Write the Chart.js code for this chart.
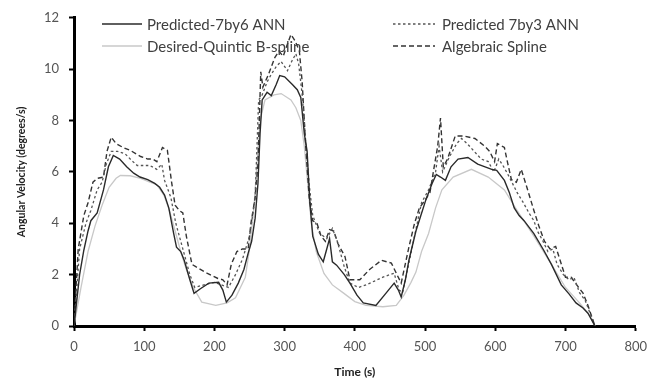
<!DOCTYPE html>
<html>
<head>
<meta charset="utf-8">
<script src="https://cdn.jsdelivr.net/npm/chart.js@4/dist/chart.umd.min.js"></script>
<style>
  html, body { margin: 0; padding: 0; background: #fff; }
  #wrap { width: 655px; height: 380px; }
</style>
</head>
<body>
<div id="wrap"><canvas id="velChart" width="655" height="380"></canvas></div>
<script>
// ── Series data: [time (s), angular velocity (deg/s)] ──
const ann7by6 = [
  [0,0],[8,2.0],[14,2.95],[20,3.7],[24,4.1],[33,4.4],[42,5.3],[49,6.2],[56,6.64],[65,6.5],
  [75,6.2],[85,5.95],[94,5.8],[105,5.7],[115,5.55],[122,5.4],[129,5.1],[135,4.6],[142,3.6],[146,3.07],
  [152,2.9],[157,2.56],[165,1.8],[171,1.27],[180,1.45],[192,1.67],[206,1.7],[212,1.4],[217,0.93],[225,1.2],
  [234,1.67],[242,2.2],[248,2.83],[253,3.3],[258,4.2],[262,5.55],[265,7.5],[268,8.8],[275,9.1],[281,8.97],
  [288,9.4],[293,9.75],[300,9.7],[311,9.4],[318,9.2],[323,8.9],[328,7.5],[332,6.8],[336,4.8],[340,3.5],
  [348,2.8],[355,2.5],[360,3.0],[364,3.4],[368,2.5],[374,2.37],[385,2.0],[393,1.67],[403,1.2],[412,0.9],
  [430,0.8],[445,1.3],[456,1.67],[462,1.4],[466,1.13],[472,1.8],[477,2.56],[487,3.7],[494,4.3],[501,4.9],
  [510,5.55],[516,5.9],[522,5.8],[529,5.67],[537,6.2],[547,6.5],[561,6.56],[575,6.3],[595,6.1],[602,6.06],
  [613,5.67],[620,5.2],[627,4.6],[634,4.3],[641,4.1],[655,3.6],[669,2.95],[680,2.4],[694,1.6],[705,1.25],
  [715,0.9],[725,0.7],[732,0.5],[742,0]
];

const ann7by3 = [
  [0,0],[8,3.0],[17,4.0],[24,4.5],[33,5.3],[40,5.6],[46,6.3],[53,6.8],[62,6.8],[73,6.7],
  [82,6.45],[90,6.25],[100,6.25],[108,6.25],[118,6.1],[125,6.3],[129,5.67],[138,5.0],[145,4.0],[155,3.0],
  [165,2.0],[172,1.5],[185,1.6],[200,1.7],[210,1.6],[220,1.5],[230,2.0],[240,2.6],[250,3.5],[258,5.0],
  [263,8.8],[268,9.0],[275,9.5],[281,9.8],[288,10.1],[295,10.3],[304,9.94],[310,10.3],[316,10.6],[320,10.2],
  [325,9.0],[330,7.2],[335,5.5],[340,4.3],[350,3.6],[360,3.4],[368,3.8],[375,3.3],[385,2.3],[393,1.67],
  [405,1.5],[416,1.6],[428,1.75],[440,1.9],[450,2.0],[456,2.05],[463,1.4],[468,1.3],[475,2.2],[485,3.5],
  [495,4.8],[505,5.3],[515,6.0],[520,7.0],[525,6.0],[535,6.6],[545,7.1],[552,7.3],[560,7.1],[570,6.8],
  [580,6.5],[590,6.4],[598,6.0],[605,6.5],[612,6.2],[620,5.8],[631,5.2],[640,4.8],[648,4.4],[655,4.1],
  [660,3.7],[668,3.3],[675,2.9],[682,3.0],[688,2.4],[697,2.0],[705,1.8],[712,1.9],[720,1.3],[728,1.0],
  [735,0.5],[742,0]
];

const quinticBspline = [
  [0,0],[10,1.5],[20,2.9],[30,3.9],[40,4.7],[50,5.4],[60,5.75],[66,5.86],[80,5.85],[95,5.75],
  [108,5.6],[118,5.5],[128,5.1],[136,4.5],[145,3.6],[152,2.9],[160,2.2],[170,1.5],[182,0.93],[202,0.8],
  [218,0.9],[230,1.1],[244,1.9],[250,3.0],[256,4.5],[261,6.5],[265,8.0],[272,8.8],[285,9.0],[295,9.05],
  [309,8.8],[316,8.5],[323,8.0],[328,7.0],[333,5.5],[338,4.0],[345,2.9],[356,2.05],[368,1.6],[384,1.28],
  [400,0.95],[416,0.8],[440,0.75],[459,0.8],[470,1.2],[480,1.7],[487,2.1],[495,2.9],[505,3.6],[515,4.6],
  [524,5.3],[540,5.8],[566,6.1],[590,5.8],[613,5.3],[631,4.5],[655,3.5],[680,2.4],[700,1.5],[720,0.9],
  [735,0.4],[742,0]
];

const algebraicSpline = [
  [0,0],[6,3.0],[14,4.3],[20,4.8],[27,5.6],[33,5.75],[42,5.8],[47,6.8],[53,7.35],[60,7.1],
  [70,6.95],[80,6.84],[95,6.6],[105,6.5],[112,6.5],[118,6.4],[126,6.95],[133,6.84],[139,5.6],[144,4.7],
  [150,4.5],[155,4.4],[160,3.5],[168,2.4],[174,2.3],[190,2.05],[205,1.85],[212,1.8],[218,1.6],[224,2.4],
  [232,2.9],[240,3.0],[248,3.0],[252,4.0],[258,5.0],[262,6.3],[266,9.9],[269,9.3],[277,9.8],[286,10.45],
  [292,10.7],[298,10.5],[303,10.9],[309,11.35],[315,11.1],[321,10.7],[325,9.5],[330,7.0],[335,5.0],[340,4.1],
  [346,4.0],[352,3.5],[358,3.3],[364,3.75],[370,3.7],[376,3.2],[386,2.7],[393,1.8],[407,1.8],[421,2.2],
  [438,2.56],[452,2.45],[460,2.0],[466,1.67],[477,3.07],[485,4.0],[492,4.6],[500,4.9],[507,5.2],[513,6.2],
  [518,7.0],[522,8.1],[526,6.2],[532,6.5],[543,7.4],[555,7.4],[571,7.3],[585,7.0],[592,6.8],[599,6.4],
  [603,7.1],[613,6.95],[618,6.3],[623,5.7],[630,5.6],[637,6.1],[645,5.4],[655,4.5],[662,3.9],[670,3.3],
  [678,3.0],[686,3.1],[693,2.5],[700,1.9],[708,1.9],[716,1.6],[725,1.28],[732,0.8],[742,0]
];

const seriesLabels = ['Predicted-7by6 ANN', 'Predicted 7by3 ANN', 'Desired-Quintic B-spline', 'Algebraic Spline'];
const xTicks = [0, 100, 200, 300, 400, 500, 600, 700, 800];
const yTicks = [0, 2, 4, 6, 8, 10, 12];

// ── Line styles (colour, width, dash) per series ──────────────────────
const STYLES = [
  { color: '#2a2a2a', width: 1.4, dash: [] },
  { color: '#555555', width: 1.3, dash: [2.5, 2.5] },
  { color: '#c8c8c8', width: 1.3, dash: [] },
  { color: '#333333', width: 1.4, dash: [5, 3] },
];

const toXY = arr => arr.map(([t, v]) => ({ x: t, y: v }));
const seriesData = [ann7by6, ann7by3, quinticBspline, algebraicSpline];

// draw order: desired first so the dark lines sit on top
const datasets = seriesData.map((d, i) => ({
  label: seriesLabels[i],
  data: toXY(d),
  borderColor: STYLES[i].color,
  borderWidth: STYLES[i].width,
  borderDash: STYLES[i].dash,
  pointRadius: 0,
  tension: 0,
  fill: false,
  order: i === 2 ? 10 : i,
}));

// ── Two-column legend drawn in the top of the plot ───────────────────
const legendGrid = {
  id: 'legendGrid',
  afterDraw(chart) {
    const { ctx } = chart;
    const cols = [{ x0: 102, x1: 142, tx: 147 }, { x0: 393, x1: 435, tx: 442 }];
    const rows = [24, 46];
    const slots = [[0, 0], [1, 0], [0, 1], [1, 1]]; // [col,row] per series
    ctx.save();
    ctx.font = '15px Lato';
    ctx.textBaseline = 'middle';
    ctx.fillStyle = '#404040';
    slots.forEach(([c, r], i) => {
      const col = cols[c], y = rows[r], s = STYLES[i];
      ctx.beginPath();
      ctx.setLineDash(s.dash);
      ctx.strokeStyle = s.color;
      ctx.lineWidth = s.width;
      ctx.moveTo(col.x0, y);
      ctx.lineTo(col.x1, y);
      ctx.stroke();
      ctx.setLineDash([]);
      ctx.fillText(seriesLabels[i], col.tx, y + 1);
    });
    ctx.restore();
  }
};

new Chart(document.getElementById('velChart'), {
  type: 'line',
  data: { datasets },
  plugins: [legendGrid],
  options: {
    responsive: false,
    animation: false,
    devicePixelRatio: 1,
    layout: { padding: { top: 17, right: 12, bottom: 0, left: 0 } },
    plugins: { legend: { display: false }, tooltip: { enabled: false } },
    scales: {
      x: {
        type: 'linear',
        min: 0, max: 800,
        afterBuildTicks: s => { s.ticks = xTicks.map(v => ({ value: v })); },
        afterFit: s => { s.height = 54; },
        ticks: { color: '#555', font: { family: 'Lato', size: 13 }, padding: 8, maxRotation: 0 },
        grid: { drawOnChartArea: false, drawTicks: true, tickLength: 5, tickColor: '#000', tickWidth: 2 },
        border: { display: true, color: '#000', width: 3 },
        title: { display: true, text: 'Time (s)', color: '#222', font: { family: 'Lato', size: 12, weight: 'bold' }, padding: { top: 0, bottom: 1 } },
      },
      y: {
        min: 0, max: 12,
        afterBuildTicks: s => { s.ticks = yTicks.map(v => ({ value: v })); },
        afterFit: s => { s.width = 74; },
        ticks: { color: '#555', font: { family: 'Lato', size: 13 }, padding: 10 },
        grid: { drawOnChartArea: false, drawTicks: true, tickLength: 5, tickColor: '#000', tickWidth: 2 },
        border: { display: true, color: '#000', width: 3 },
        title: { display: true, text: 'Angular Velocity (degrees/s)', color: '#222', font: { family: 'Lato', size: 10.5, weight: 'bold' }, padding: { top: 15, bottom: 0 } },
      }
    }
  }
});
</script>
</body>
</html>
